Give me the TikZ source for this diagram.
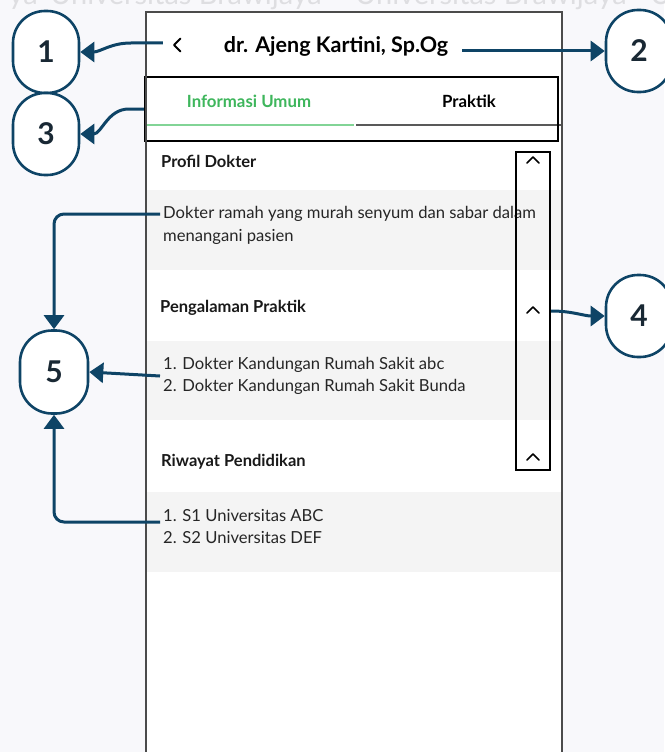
\documentclass[tikz,border=0pt]{standalone}
\usepackage{fontspec}
\setmainfont{Lato}
\usetikzlibrary{arrows.meta,calc}
\definecolor{pagebg}{RGB}{248,248,251}
\definecolor{navy}{RGB}{14,68,102}
\definecolor{band}{RGB}{244,244,244}
\definecolor{tabgreen}{RGB}{62,182,92}
\definecolor{tabline}{RGB}{130,212,150}
\definecolor{framegray}{RGB}{75,75,75}
\definecolor{digit}{RGB}{25,40,52}
\definecolor{mark}{RGB}{222,222,225}

\begin{document}
\begin{tikzpicture}[x=1pt,y=-1pt,
  callout/.style={draw=navy,line width=2.6pt,fill=white,rounded corners=32pt,
    minimum width=66pt,minimum height=82pt,inner sep=0pt,
    font=\fontsize{30}{30}\selectfont\bfseries,text=digit},
  conn/.style={draw=navy,line width=3pt,-{Triangle[length=14pt,width=20pt]}},
  body/.style={inner sep=0pt,anchor=west,font=\fontsize{16.6}{22}\selectfont,text=black!85},
  head/.style={inner sep=0pt,anchor=west,font=\fontsize{16.5}{18}\selectfont\bfseries,text=black!90},
  tabtext/.style={inner sep=0pt,font=\fontsize{16.8}{18}\selectfont\bfseries},
  wmark/.style={anchor=base west,inner sep=0pt,text=mark,font=\fontsize{29}{29}\selectfont},
  ]
\useasboundingbox (0,0) rectangle (664,752);
\fill[pagebg] (0,0) rectangle (664,752);

% watermark strip along the top
\node[wmark,anchor=base east] (wm0) at (38,5) {ya};
\node[wmark] (wm1) at (50,5) {Universitas Brawijaya};
\node[wmark] (wm2) at (355,5) {Universitas Brawijaya};
\node[wmark] (wm3) at (650,5) {U};

% phone screen
\fill[white] (146,12) rectangle (562,760);

% grey content bands
\fill[band] (147,190) rectangle (561,270);
\fill[band] (147,341) rectangle (561,420);
\fill[band] (147,492) rectangle (561,572);

% header
\node[inner sep=0pt,minimum width=8pt,minimum height=14pt] (back) at (177,45) {};
\draw[line width=2pt,line cap=round,line join=round] (180.5,38.5) -- (174,45) -- (180.5,51.5);
\node[inner sep=0pt,font=\fontsize{21.5}{24}\selectfont\bfseries] (title) at (336,46) {dr. Ajeng Kartini, Sp.Og};

% tabs
\draw[tabline,line width=2pt] (147,125) -- (354,125);
\draw[black!65,line width=2pt] (356,125) -- (561,125);
\node[tabtext,text=tabgreen] (tabinfo) at (249,101) {Informasi Umum};
\node[tabtext] (tabprak) at (469,101) {Praktik};
\node[draw=black,line width=2.4pt,minimum width=413pt,minimum height=64pt,inner sep=0pt] (tabs) at (351.5,109) {};

% profile sections
\node[head] (hprofil) at (161,161) {Profil Dokter};
\node[body] (p1) at (163,214) {Dokter ramah yang murah senyum dan sabar dalam};
\node[body] (p2) at (163,237) {menangani pasien};

\node[head] (hpengalaman) at (160,308) {Pengalaman Praktik};
\node[body,align=left] (g) at (163,376) {1. Dokter Kandungan Rumah Sakit abc\\2. Dokter Kandungan Rumah Sakit Bunda};

\node[head] (hriwayat) at (161,462) {Riwayat Pendidikan};
\node[body] (r1) at (163,516) {1. S1 Universitas ABC};
\node[body] (r2) at (163,538) {2. S2 Universitas DEF};

% collapse bar with chevrons
\node[draw=black,line width=2.4pt,minimum width=34pt,minimum height=318pt,inner sep=0pt] (scroll) at (533,311) {};
\foreach \cy in {160,310,457}
  \draw[line width=1.6pt,line cap=round,line join=round] (527,{\cy+3}) -- (533,{\cy-3}) -- (539,{\cy+3});

% phone frame
\draw[framegray,line width=2pt] (146,760) -- (146,12) -- (562,12) -- (562,760);

% numbered callouts
\node[callout] (c1) at (46,52) {1};
\node[callout] (c3) at (46,134) {3};
\node[callout] (c2) at (639,51) {2};
\node[callout] (c4) at (639,316) {4};
\node[callout,minimum width=68pt,minimum height=83pt] (c5) at (54,372) {5};

% connectors
\draw[conn] ($(back.west)+(-10,-2)$) -- ++(-32,0) to[out=180,in=0] (c1.east);
\draw[conn] ($(title.east |- c2.west)+(14,0)$) -- (c2.west);
\draw[conn] (tabs.west) -- ++(-15,0) to[out=180,in=0] (c3.east);
\draw[conn] (scroll.east) to[out=0,in=180] (c4.west);
\draw[conn,rounded corners=10pt] ($(p1.west)+(-3,0)$) -| (c5.north);
\draw[conn] ($(g.west)+(-3,0)$) -- (c5.east);
\draw[conn,rounded corners=10pt] ($(r1.west)+(-3,6)$) -| (c5.south);
\end{tikzpicture}
\end{document}
